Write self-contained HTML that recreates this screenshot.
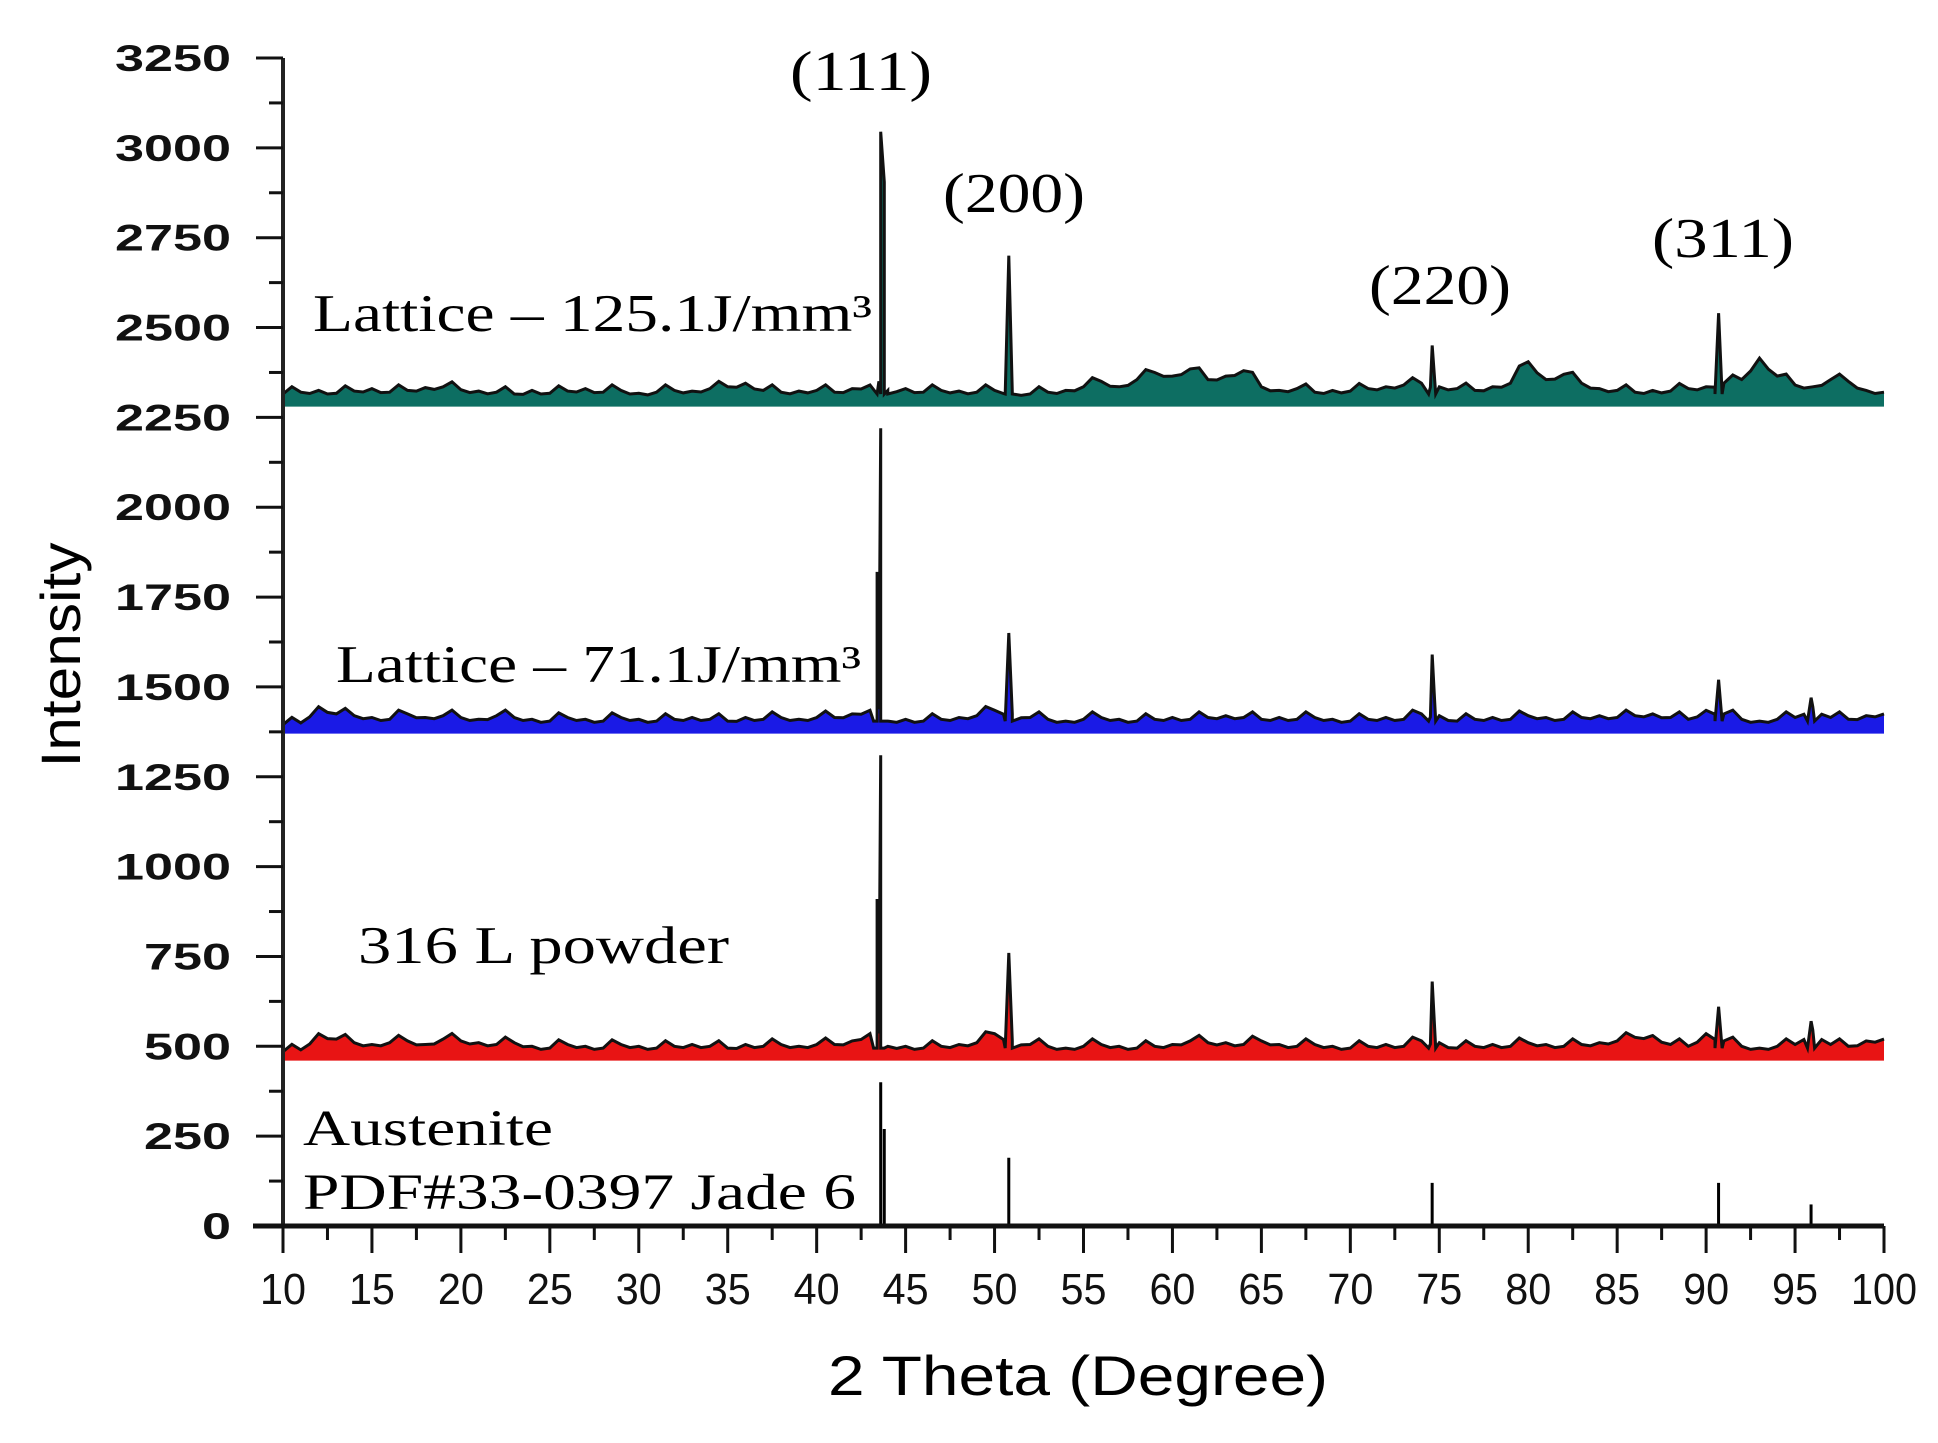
<!DOCTYPE html>
<html><head><meta charset="utf-8"><style>
html,body{margin:0;padding:0;background:#fff;}
svg{display:block;}
</style></head><body>
<svg id="chart" width="1938" height="1443" viewBox="0 0 1938 1443" xmlns="http://www.w3.org/2000/svg">
<g id="series"></g>
<g id="axes"></g>
<g font-family="'Liberation Serif', serif" fill="#000">
<text x="861" y="90" font-size="56" text-anchor="middle" textLength="142" lengthAdjust="spacingAndGlyphs">(111)</text>
<text x="1014" y="212" font-size="56" text-anchor="middle" textLength="142" lengthAdjust="spacingAndGlyphs">(200)</text>
<text x="1440" y="304" font-size="56" text-anchor="middle" textLength="142" lengthAdjust="spacingAndGlyphs">(220)</text>
<text x="1723" y="257" font-size="56" text-anchor="middle" textLength="142" lengthAdjust="spacingAndGlyphs">(311)</text>
<text x="313" y="331" font-size="53" textLength="559" lengthAdjust="spacingAndGlyphs">Lattice – 125.1J/mm³</text>
<text x="336" y="682" font-size="53" textLength="525" lengthAdjust="spacingAndGlyphs">Lattice – 71.1J/mm³</text>
<text x="358" y="963" font-size="53" textLength="371" lengthAdjust="spacingAndGlyphs">316 L powder</text>
<text x="303" y="1145" font-size="51" textLength="250" lengthAdjust="spacingAndGlyphs">Austenite</text>
<text x="303" y="1209" font-size="51" textLength="553" lengthAdjust="spacingAndGlyphs">PDF#33-0397 Jade 6</text>
</g>
<text x="1078" y="1395" font-family="'Liberation Sans', sans-serif" font-size="56" text-anchor="middle" textLength="500" lengthAdjust="spacingAndGlyphs">2 Theta (Degree)</text>
<text transform="translate(80,655) rotate(-90)" font-family="'Liberation Sans', sans-serif" font-size="56" text-anchor="middle" textLength="225" lengthAdjust="spacingAndGlyphs">Intensity</text>
</svg>
<script>
const xTicks = [10,15,20,25,30,35,40,45,50,55,60,65,70,75,80,85,90,95,100];
const yTicks = [0,250,500,750,1000,1250,1500,1750,2000,2250,2500,2750,3000,3250];
const bgStart = 10;
const tealBase = 2295;
const tealBg = [20,25,30,22,28,35,25,30,38,40,32,28,25,20,30,22,28,35,25,30,22,25,30,28,35,40,50,30,25,28,30,25,35,45,30,35,25,30,28,25,30,25,20,25,30,40,55,40,60,80,70,90,60,70,85,40,30,35,25,30,28,35,40,45,50,40,35,30,40,50,110,60,75,50,35,30,25,30,28,35,40,50,60,120,70,45,40,60,55,30,25];
const tealPeaks = [[43.6,3045],[43.8,2905],[50.8,2700],[74.6,2450],[90.7,2540]];
const blueBase = 1385;
const blueBg = [10,15,60,40,35,30,25,40,30,35,30,25,35,30,25,20,30,25,20,30,25,20,25,30,25,20,30,25,30,25,30,30,40,50,20,25,20,25,30,35,50,40,30,25,20,25,30,25,20,25,30,25,30,35,30,25,30,25,30,25,20,25,30,25,40,35,20,25,30,25,35,30,25,30,35,30,35,40,30,25,50,40,25,20,25,30,60,30,25,35,40];
const bluePeaks = [[43.6,2220],[43.4,1820],[50.8,1650],[74.6,1590],[90.7,1520],[95.9,1470]];
const redBase = 475;
const redBg = [10,15,60,45,35,30,35,40,30,45,40,35,30,35,25,20,30,25,20,30,25,20,25,30,25,20,30,25,30,25,30,30,40,60,25,25,20,25,30,35,60,40,30,25,20,25,30,25,20,25,30,40,35,35,30,40,30,25,30,25,20,25,30,25,40,35,20,25,30,25,35,30,25,30,35,40,50,55,30,25,60,40,25,20,25,30,70,30,25,40,45];
const redPeaks = [[43.6,1310],[43.4,910],[50.8,760],[74.6,680],[90.7,610],[95.9,570]];
const refPos = [43.6,43.8,50.8,74.6,90.7,95.9];
const refVal = [400,270,190,120,120,60];

const X0=283, X1=1884, Y0=1226, Y1=58;
const sx = v => X0 + (v-10)/(100-10)*(X1-X0);
const sy = v => Y0 - v/3250*(Y0-Y1);
const NS="http://www.w3.org/2000/svg";
const seriesG=document.getElementById('series');
const axesG=document.getElementById('axes');
function mk(tag,attrs,parent){const e=document.createElementNS(NS,tag);for(const k in attrs)e.setAttribute(k,attrs[k]);parent.appendChild(e);return e;}

function drawSeries(base,bg,peaks,color,name){
  let pts=[];
  bg.forEach((o,i)=>pts.push([bgStart+i,base+o]));
  bg.forEach((o,i)=>{ if(i<bg.length-1){ pts.push([bgStart+i+0.5, base+(o+bg[i+1])/2+ (i%3===0?18:-6)]); } });
  peaks.forEach(p=>{pts.push([p[0]-0.2,base+20]);pts.push([p[0],p[1]]);pts.push([p[0]+0.2,base+20]);});
  pts.sort((a,b)=>a[0]-b[0]);
  let d='M'+sx(10)+','+sy(base-15);
  pts.forEach(p=>{d+=' L'+sx(p[0]).toFixed(1)+','+sy(p[1]).toFixed(1);});
  d+=' L'+sx(100)+','+sy(base-15)+' Z';
  const area=mk('path',{d:d,fill:color,stroke:'none'},seriesG);
  
  
  let l='';
  pts.forEach((p,i)=>{l+=(i?' L':'M')+sx(p[0]).toFixed(1)+','+sy(p[1]).toFixed(1);});
  const line=mk('path',{d:l,fill:'none',stroke:'#111','stroke-width':3},seriesG);
  
  
}
drawSeries(tealBase,tealBg,tealPeaks,'#0d6e62','series-lattice-125');
drawSeries(blueBase,blueBg,bluePeaks,'#1a1ae6','series-lattice-71');
drawSeries(redBase,redBg,redPeaks,'#e81414','series-316l-powder');
refPos.forEach((p,i)=>{
  const s=mk('line',{x1:sx(p),x2:sx(p),y1:sy(0),y2:sy(refVal[i]),stroke:'#000','stroke-width':3},seriesG);
  
  
});

const ya=mk('line',{x1:X0,x2:X0,y1:Y1,y2:Y0,stroke:'#222','stroke-width':4},axesG);


const xa=mk('line',{x1:253,x2:X1,y1:Y0,y2:Y0,stroke:'#111','stroke-width':5},axesG);


yTicks.forEach((v,i)=>{
  const t=mk('line',{x1:X0-27,x2:X0,y1:sy(v),y2:sy(v),stroke:'#111','stroke-width':3},axesG);
  
  
  if(i<yTicks.length-1){
    const m=mk('line',{x1:X0-14,x2:X0,y1:sy(v+125),y2:sy(v+125),stroke:'#111','stroke-width':3},axesG);
    
    
  }
  const s=String(v);
  const lb=mk('text',{x:231,y:sy(v)+13,'text-anchor':'end','font-family':"'Liberation Sans', sans-serif",'font-size':37,'font-weight':'bold',fill:'#111',textLength:29*s.length,lengthAdjust:'spacingAndGlyphs'},axesG);
  lb.textContent=s;
  
  
});
xTicks.forEach((v,i)=>{
  const t=mk('line',{x1:sx(v),x2:sx(v),y1:Y0,y2:Y0+27,stroke:'#111','stroke-width':3},axesG);
  
  
  if(i<xTicks.length-1){
    const m=mk('line',{x1:sx(v+2.5),x2:sx(v+2.5),y1:Y0,y2:Y0+14,stroke:'#111','stroke-width':3},axesG);
    
    
  }
  const lb=mk('text',{x:sx(v),y:1304,'text-anchor':'middle','font-family':"'Liberation Sans', sans-serif",'font-size':44,fill:'#111',textLength:(v===100?66:46),lengthAdjust:'spacingAndGlyphs'},axesG);
  lb.textContent=v;
  
  
});
</script>
</body></html>
